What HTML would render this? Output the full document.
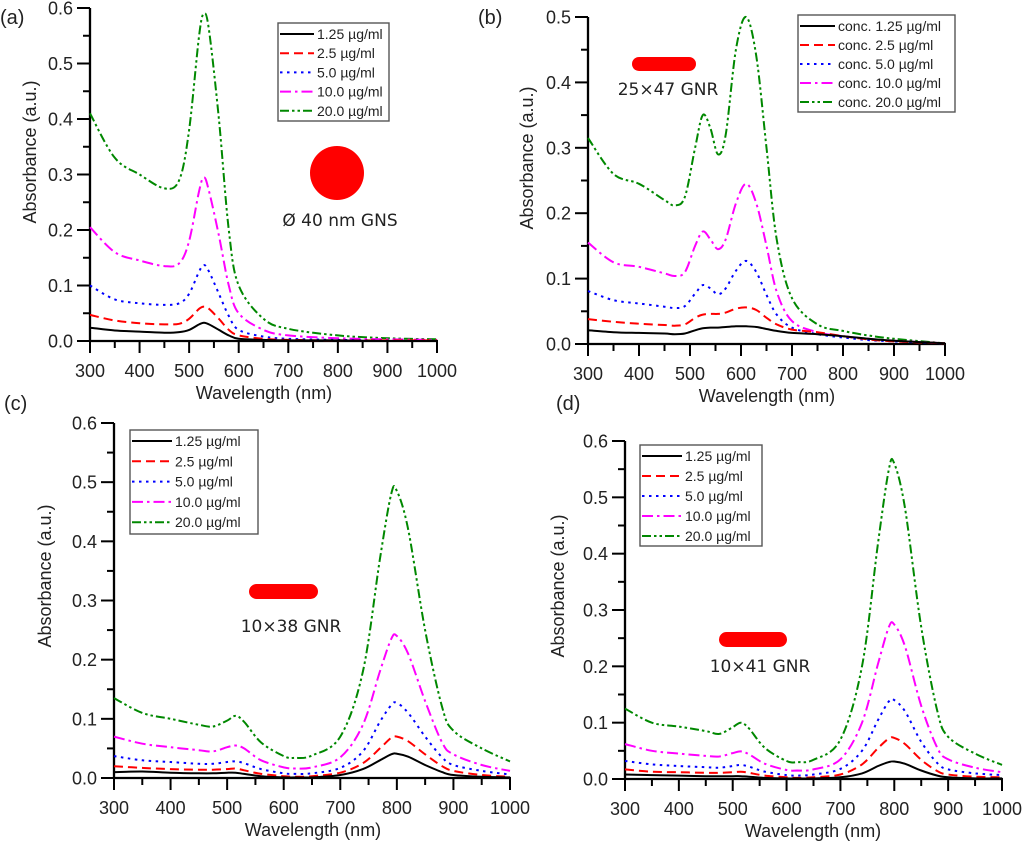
<!DOCTYPE html>
<html><head><meta charset="utf-8"><style>
body{margin:0;background:#fff}
svg{display:block}
text{font-family:"Liberation Sans",Arial,sans-serif;fill:#222}
.note{font-family:"DejaVu Sans","Liberation Sans",sans-serif}
</style></head><body>
<svg id="fig" width="1024" height="844" viewBox="0 0 1024 844"></svg>
<script>
// ---- data ----
const wlA=[300,350,400,450,480,500,520,530,540,560,580,600,650,700,800,900,1000];
const a_c20=[0.41,0.33,0.30,0.275,0.29,0.38,0.55,0.59,0.56,0.40,0.20,0.10,0.04,0.022,0.01,0.005,0.003];
const a_c10=[0.205,0.16,0.145,0.135,0.14,0.18,0.27,0.295,0.27,0.19,0.10,0.05,0.02,0.01,0.005,0.003,0.002];
const a_c5=[0.10,0.075,0.068,0.065,0.068,0.085,0.125,0.137,0.125,0.085,0.045,0.02,0.008,0.004,0.002,0.001,0.001];
const a_c25=[0.047,0.037,0.032,0.03,0.031,0.04,0.058,0.062,0.058,0.04,0.02,0.01,0.004,0.002,0.001,0.001,0.001];
const a_c125=[0.024,0.019,0.017,0.015,0.016,0.02,0.03,0.033,0.03,0.02,0.01,0.004,0.002,0.001,0.001,0,0];

const wlB=[300,350,400,450,470,490,510,525,540,555,570,590,610,630,650,670,700,750,800,850,900,1000];
const b_c20=[0.315,0.26,0.245,0.22,0.212,0.225,0.30,0.35,0.33,0.29,0.32,0.45,0.50,0.44,0.30,0.16,0.07,0.03,0.02,0.013,0.008,0.001];
const b_c10=[0.155,0.125,0.118,0.108,0.104,0.11,0.15,0.172,0.16,0.145,0.16,0.215,0.245,0.215,0.15,0.08,0.035,0.018,0.012,0.008,0.005,0.001];
const b_c5=[0.081,0.067,0.062,0.057,0.055,0.058,0.077,0.09,0.085,0.076,0.085,0.112,0.127,0.11,0.075,0.045,0.025,0.015,0.01,0.006,0.004,0.001];
const b_c25=[0.038,0.034,0.031,0.029,0.028,0.03,0.04,0.045,0.046,0.046,0.048,0.054,0.056,0.052,0.04,0.03,0.022,0.018,0.012,0.007,0.004,0.001];
const b_c125=[0.021,0.018,0.017,0.016,0.015,0.016,0.021,0.024,0.025,0.025,0.026,0.027,0.027,0.026,0.023,0.02,0.017,0.015,0.012,0.008,0.005,0.001];

const wlC=[300,350,400,450,475,500,515,530,560,600,620,650,700,740,770,790,800,820,850,880,900,950,1000];
const c_c20=[0.135,0.11,0.1,0.09,0.087,0.097,0.105,0.095,0.06,0.037,0.034,0.038,0.07,0.18,0.37,0.48,0.485,0.42,0.25,0.12,0.08,0.05,0.028];
const c_c10=[0.07,0.058,0.052,0.047,0.045,0.052,0.055,0.05,0.03,0.018,0.016,0.018,0.035,0.09,0.18,0.235,0.24,0.21,0.13,0.06,0.04,0.022,0.012];
const c_c5=[0.037,0.03,0.027,0.024,0.024,0.027,0.028,0.025,0.015,0.008,0.007,0.008,0.017,0.045,0.095,0.123,0.127,0.11,0.07,0.035,0.022,0.012,0.006];
const c_c25=[0.02,0.017,0.015,0.014,0.014,0.015,0.016,0.013,0.007,0.003,0.002,0.003,0.009,0.025,0.05,0.068,0.07,0.062,0.04,0.02,0.012,0.005,0.002];
const c_c125=[0.01,0.011,0.009,0.008,0.008,0.009,0.009,0.007,0.003,0.001,0.001,0.001,0.005,0.015,0.03,0.04,0.041,0.036,0.022,0.01,0.005,0.002,0.001];

const wlD=wlC;
const d_c20=[0.125,0.1,0.093,0.085,0.08,0.092,0.1,0.09,0.055,0.032,0.03,0.034,0.07,0.2,0.42,0.55,0.56,0.48,0.27,0.12,0.075,0.045,0.025];
const d_c10=[0.062,0.05,0.045,0.041,0.04,0.046,0.049,0.044,0.027,0.016,0.015,0.017,0.035,0.1,0.205,0.27,0.274,0.235,0.13,0.055,0.035,0.02,0.012];
const d_c5=[0.032,0.026,0.023,0.021,0.02,0.023,0.025,0.022,0.013,0.007,0.006,0.008,0.018,0.05,0.105,0.138,0.14,0.12,0.066,0.028,0.017,0.01,0.007];
const d_c25=[0.017,0.013,0.012,0.011,0.011,0.012,0.013,0.011,0.006,0.003,0.002,0.003,0.008,0.026,0.055,0.072,0.073,0.062,0.034,0.014,0.008,0.004,0.003];
const d_c125=[0.008,0.007,0.006,0.005,0.005,0.005,0.005,0.004,0.002,0.001,0.001,0.001,0.003,0.01,0.023,0.03,0.031,0.027,0.015,0.006,0.003,0.001,0.001];

const xTicks=[300,400,500,600,700,800,900,1000];
const labelsShort=["1.25 µg/ml","2.5 µg/ml","5.0 µg/ml","10.0 µg/ml","20.0 µg/ml"];
const labelsConc=["conc. 1.25 µg/ml","conc. 2.5 µg/ml","conc. 5.0 µg/ml","conc. 10.0 µg/ml","conc. 20.0 µg/ml"];

const styles=[
 {c:'#000',d:''},{c:'#f00',d:'9,5'},{c:'#00f',d:'2.5,4.5'},{c:'#f0f',d:'11,4,2.5,4'},{c:'#080',d:'9,3,2.5,3,2.5,3'}];

const NS='http://www.w3.org/2000/svg';
const svg=document.getElementById('fig');
function el(tag,attrs,parent,txt){const e=document.createElementNS(NS,tag);for(const k in attrs)e.setAttribute(k,attrs[k]);if(txt!==undefined)e.textContent=txt;(parent||svg).appendChild(e);return e;}

function smoothPath(pts){
  let d='M'+pts[0][0].toFixed(1)+','+pts[0][1].toFixed(1);
  for(let i=0;i<pts.length-1;i++){
    const p0=pts[i-1]||pts[i],p1=pts[i],p2=pts[i+1],p3=pts[i+2]||p2;
    const c1=[p1[0]+(p2[0]-p0[0])/6,p1[1]+(p2[1]-p0[1])/6];
    const c2=[p2[0]-(p3[0]-p1[0])/6,p2[1]-(p3[1]-p1[1])/6];
    d+=' C'+c1[0].toFixed(1)+','+c1[1].toFixed(1)+' '+c2[0].toFixed(1)+','+c2[1].toFixed(1)+' '+p2[0].toFixed(1)+','+p2[1].toFixed(1);
  }
  return d;
}

function panel(p){
  const g=el('g',{});
  
  
  const xs=v=>p.x0+(v-300)/700*(p.x1-p.x0);
  const ys=v=>p.y0-v/p.ymax*(p.y0-p.ytop);
  const ya=el('line',{x1:p.x0,y1:p.ytop,x2:p.x0,y2:p.y0,stroke:'#000','stroke-width':2.3},g);
  
  const xa=el('line',{x1:p.x0-1,y1:p.y0,x2:p.x1+1,y2:p.y0,stroke:'#000','stroke-width':2.3},g);
  
  const nY=Math.round(p.ymax/0.05);
  for(let i=0;i<=nY;i++){
    const v=i*0.05,y=ys(v),maj=i%2===0;
    el('line',{x1:p.x0-(maj?13:7),y1:y,x2:p.x0,y2:y,stroke:'#000','stroke-width':2},g);
    if(maj){const t=el('text',{x:p.x0-17,y:y+6.5,'text-anchor':'end','font-size':18},g,v.toFixed(1));
      }
  }
  for(let w=300;w<=1000;w+=50){
    const x=xs(w),maj=w%100===0;
    el('line',{x1:x,y1:p.y0,x2:x,y2:p.y0+(maj?12:7),stroke:'#000','stroke-width':2},g);
  }
  xTicks.forEach(w=>{const t=el('text',{x:xs(w),y:p.y0+36,'text-anchor':'middle','font-size':18},g,String(w));
    });
  const xt=el('text',{x:p.xtx,y:p.y0+58,'text-anchor':'middle','font-size':18},g,'Wavelength (nm)');
  
  const yt=el('text',{x:0,y:0,'text-anchor':'middle','font-size':18,transform:'translate('+(p.ytx+6)+','+p.yty+') rotate(-90)'},g,'Absorbance (a.u.)');
  
  const pl=el('text',{x:p.lx,y:p.ly,'font-size':20},g,'('+p.id+')');
  
  for(let s=p.series.length-1;s>=0;s--){
    const pts=p.wl.map((w,i)=>[xs(w),ys(p.series[s][i])]);
    const path=el('path',{d:smoothPath(pts),fill:'none',stroke:styles[s].c,'stroke-width':2,'stroke-dasharray':styles[s].d},g);
    
    
  }
  const L=p.leg;
  const lg=el('g',{},g);
  
  el('rect',{x:L.x,y:L.y,width:L.w,height:L.h,fill:'#fff',stroke:'#555','stroke-width':1.4},lg);
  p.labels.forEach((lab,i)=>{
    const cy=L.y+11+i*L.dy;
    const e=el('g',{},lg);
    
    el('line',{x1:L.x+2,y1:cy,x2:L.x+2+L.ll,y2:cy,stroke:styles[i].c,'stroke-width':2,'stroke-dasharray':styles[i].d},e);
    el('text',{x:L.x+5+L.ll,y:cy+5,'font-size':14},e,lab);
  });
}

panel({id:'a',x0:90,x1:437,y0:341,ytop:8,ymax:0.6,wl:wlA,series:[a_c125,a_c25,a_c5,a_c10,a_c20],labels:labelsShort,
  xtx:264,ytx:30,yty:152,lx:0,ly:24,leg:{x:278,y:23,w:111,h:98,dy:19.2,ll:34}});
panel({id:'b',x0:588,x1:945,y0:344,ytop:17,ymax:0.5,wl:wlB,series:[b_c125,b_c25,b_c5,b_c10,b_c20],labels:labelsConc,
  xtx:767,ytx:527,yty:158,lx:478,ly:24,leg:{x:798,y:15,w:157,h:97,dy:19,ll:35}});
panel({id:'c',x0:114,x1:510,y0:778,ytop:423,ymax:0.6,wl:wlC,series:[c_c125,c_c25,c_c5,c_c10,c_c20],labels:labelsShort,
  xtx:313,ytx:45,yty:576,lx:4,ly:410,leg:{x:130,y:430,w:128,h:104,dy:20.3,ll:40}});
panel({id:'d',x0:625,x1:1002,y0:779,ytop:441,ymax:0.6,wl:wlD,series:[d_c125,d_c25,d_c5,d_c10,d_c20],labels:labelsShort,
  xtx:813,ytx:558,yty:586,lx:556,ly:410,leg:{x:640,y:445,w:122,h:101,dy:20,ll:40}});

const ann=[
 {shape:'circle',cx:337,cy:173,r:27,text:'Ø 40 nm GNS',tx:340,ty:226,name:'gns-annotation'},
 {shape:'pill',x:632,y:57,w:64,h:14,text:'25×47 GNR',tx:668,ty:95,name:'gnr-25x47-annotation'},
 {shape:'pill',x:249,y:584,w:69,h:15,text:'10×38 GNR',tx:291,ty:632,name:'gnr-10x38-annotation'},
 {shape:'pill',x:719,y:632,w:68,h:15,text:'10×41 GNR',tx:760,ty:672,name:'gnr-10x41-annotation'}];
ann.forEach(a=>{
  const g=el('g',{});
  
  if(a.shape==='circle') el('circle',{cx:a.cx,cy:a.cy,r:a.r,fill:'#f00'},g);
  else el('rect',{x:a.x,y:a.y,width:a.w,height:a.h,rx:a.h/2,fill:'#f00'},g);
  el('text',{x:a.tx,y:a.ty,'text-anchor':'middle','font-size':17,class:'note'},g,a.text);
});
</script>
</body></html>
